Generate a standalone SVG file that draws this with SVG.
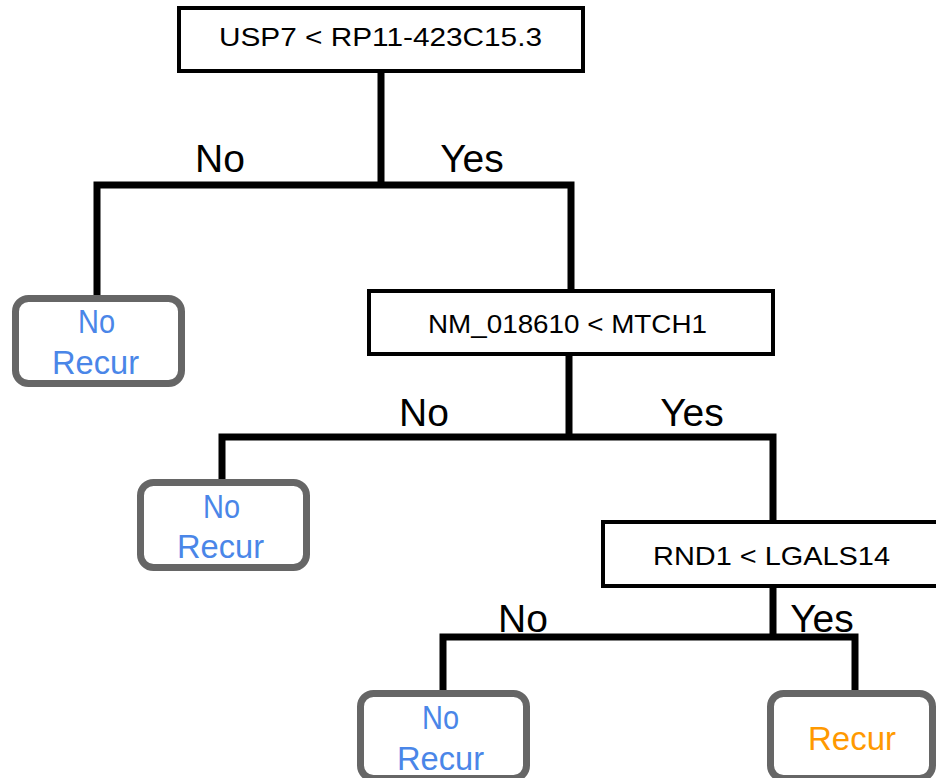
<svg xmlns="http://www.w3.org/2000/svg" width="936" height="778" viewBox="0 0 936 778">
<style>
.box{fill:#fff;stroke:#000;stroke-width:4}
.leaf{fill:#fff;stroke:#666;stroke-width:7}
.q{font-family:"Liberation Sans",Arial,sans-serif;font-size:26px;fill:#000}
.lbl{font-family:"Liberation Sans",Arial,sans-serif;font-size:39px;fill:#000;text-anchor:middle}
.nr{font-family:"Liberation Sans",Arial,sans-serif;font-size:34px;fill:#4a86e8}
.r{font-family:"Liberation Sans",Arial,sans-serif;font-size:34px;fill:#ff9900}
.c{fill:none;stroke:#000;stroke-width:7;stroke-linecap:square}
</style>
<rect width="936" height="778" fill="#fff"/>
<g id="connectors">
<path class="c" d="M381 72V185M97 185H571M97 185V296M571 185V290"/>
<path class="c" d="M569 355V437M222 437H773M222 437V480M773 437V522"/>
<path class="c" d="M773 587V637M443 637H855M443 637V691M855 637V691"/>
<text class="lbl" x="220" y="172">No</text>
<text class="lbl" x="472" y="172">Yes</text>
<text class="lbl" x="424" y="426">No</text>
<text class="lbl" x="692" y="426">Yes</text>
<text class="lbl" x="523" y="632">No</text>
<text class="lbl" x="822" y="632">Yes</text>
</g>
<g id="n1">
<rect class="box" x="179" y="8" width="404" height="63"/>
<text class="q" x="219" y="46" textLength="323" lengthAdjust="spacingAndGlyphs">USP7 &lt; RP11-423C15.3</text>
</g>
<g id="leaf1">
<rect class="leaf" x="15.5" y="298.5" width="166" height="85" rx="13"/>
<text class="nr" x="78" y="333" textLength="37" lengthAdjust="spacingAndGlyphs">No</text>
<text class="nr" x="52" y="374" textLength="87" lengthAdjust="spacingAndGlyphs">Recur</text>
</g>
<g id="n2">
<rect class="box" x="369" y="291" width="404" height="63"/>
<text class="q" x="428" y="333" textLength="279" lengthAdjust="spacingAndGlyphs">NM_018610 &lt; MTCH1</text>
</g>
<g id="leaf2">
<rect class="leaf" x="140.5" y="482.5" width="166" height="85" rx="13"/>
<text class="nr" x="203" y="518" textLength="37" lengthAdjust="spacingAndGlyphs">No</text>
<text class="nr" x="177" y="558" textLength="87" lengthAdjust="spacingAndGlyphs">Recur</text>
</g>
<g id="n3">
<rect class="box" x="603" y="522" width="335" height="64"/>
<text class="q" x="653" y="565" textLength="237" lengthAdjust="spacingAndGlyphs">RND1 &lt; LGALS14</text>
</g>
<g id="leaf3">
<rect class="leaf" x="360.5" y="693.5" width="166" height="85" rx="13"/>
<text class="nr" x="422" y="729" textLength="37" lengthAdjust="spacingAndGlyphs">No</text>
<text class="nr" x="397" y="770" textLength="87" lengthAdjust="spacingAndGlyphs">Recur</text>
</g>
<g id="leaf4">
<rect class="leaf" x="770.5" y="693.5" width="162" height="85" rx="13"/>
<text class="r" x="808" y="750" textLength="88" lengthAdjust="spacingAndGlyphs">Recur</text>
</g>
</svg>
